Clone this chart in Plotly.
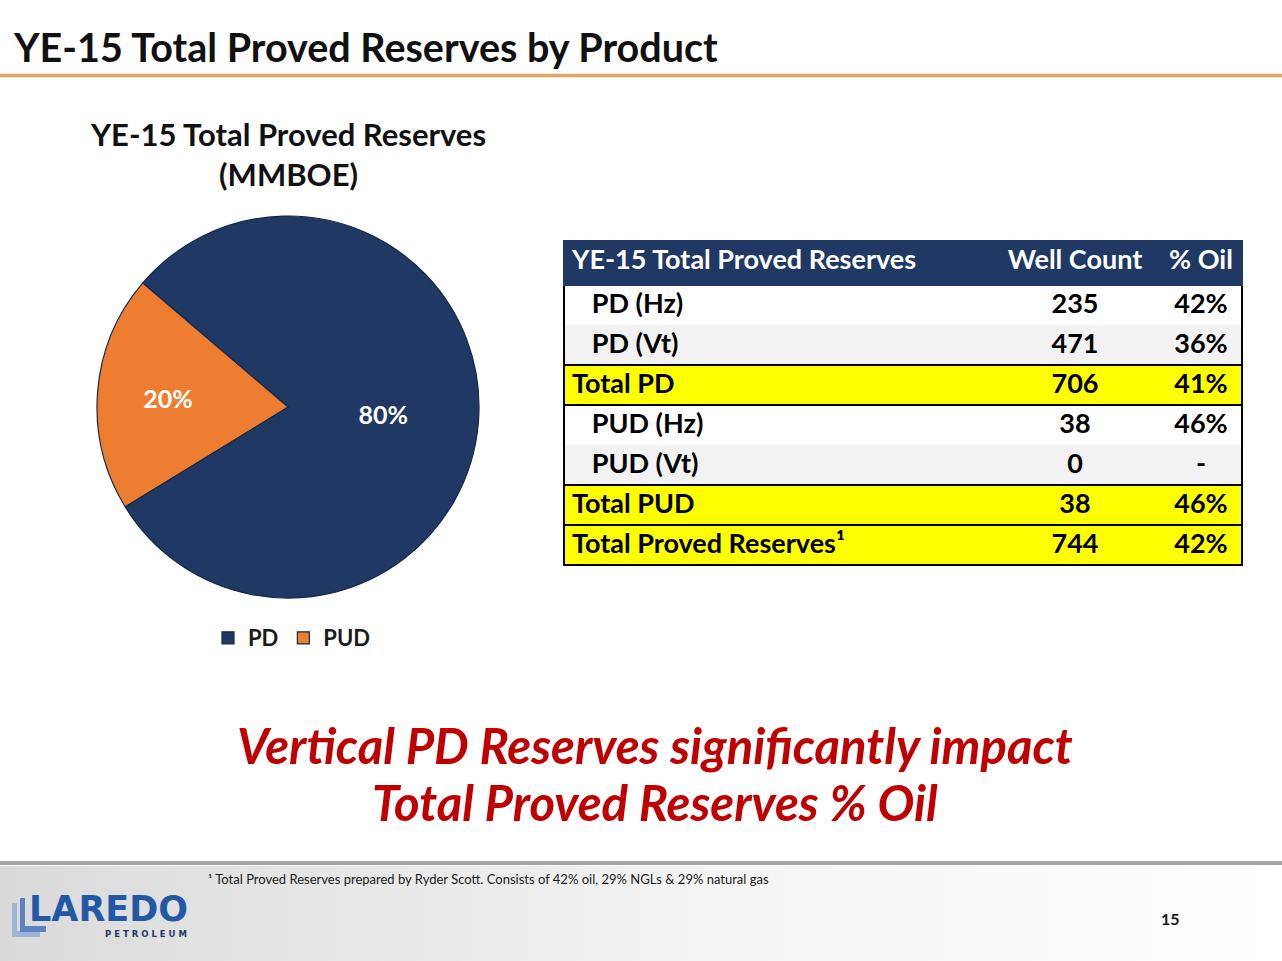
import plotly.graph_objects as go

# ---------------- data ----------------
pie_labels = ["PD", "PUD"]
pie_values = [80, 20]
pie_colors = ["#1F3864", "#ED7D31"]

table_header = ["YE-15 Total Proved Reserves", "Well\u00a0Count", "%\u00a0Oil"]
row_labels = ["PD (Hz)", "PD (Vt)", "Total PD", "PUD (Hz)", "PUD (Vt)", "Total PUD",
              "Total Proved Reserves\u00b9"]
row_indent = [True, True, False, True, True, False, False]
well_counts = ["235", "471", "706", "38", "0", "38", "744"]
pct_oil = ["42%", "36%", "41%", "46%", "-", "46%", "42%"]
row_fill = ["#FFFFFF", "#F2F2F2", "#FFFF00", "#FFFFFF", "#F2F2F2", "#FFFF00", "#FFFF00"]
rule_after = [1, 2, 4, 5, 6]  # rows followed by a black rule

callout_lines = ["Vertical PD Reserves significantly impact", "Total Proved Reserves % Oil"]

W, H = 1282, 961
FONT = "Lato"

fig = go.Figure()

# ---- footer gradient background (decoration) ----
fig.add_trace(go.Scatter(
    x=[0, W, W, 0, 0], y=[866, 866, H, H, 866], mode="none", fill="toself",
    fillgradient=dict(type="horizontal",
                      colorscale=[[0, "#DADADA"], [0.55, "#F4F4F4"], [1, "#FFFFFF"]]),
    hoverinfo="skip", showlegend=False))

# ---- pie ----
cx, cy, r = 288, 407, 191
fig.add_trace(go.Pie(
    labels=pie_labels, values=pie_values, sort=False, direction="clockwise",
    rotation=-49.5,
    marker=dict(colors=pie_colors, line=dict(color="#16284A", width=1.2)),
    texttemplate="%{percent:.0%}", textposition="inside",
    insidetextorientation="horizontal",
    textfont=dict(family=FONT, size=25, color="white", weight="bold"),
    domain=dict(x=[(cx - r) / W, (cx + r) / W], y=[(H - cy - r) / H, (H - cy + r) / H]),
    hoverinfo="skip", showlegend=True))

# ---- table ----
tx0, tx1, ty0 = 564, 1242, 241
col_w = [426, 170, 82]
head_h, row_h = 44, 40
n = len(row_labels)
ty1 = ty0 + head_h + n * row_h
labels_fmt = [("\u00a0\u00a0\u00a0" + l) if ind else l for l, ind in zip(row_labels, row_indent)]
fig.add_trace(go.Table(
    domain=dict(x=[tx0 / W, tx1 / W], y=[(H - ty1 - 2) / H, (H - ty0) / H]),
    columnwidth=col_w,
    header=dict(values=table_header, fill_color="#1F3864", height=head_h,
                align=["left", "center", "center"],
                line=dict(color="#1F3864", width=1),
                font=dict(family=FONT, size=27, color="white", weight="bold")),
    cells=dict(values=[labels_fmt, well_counts, pct_oil],
               fill_color=[row_fill, row_fill, row_fill], height=row_h,
               align=["left", "center", "center"],
               line=dict(color=[row_fill, row_fill, row_fill], width=1),
               font=dict(family=FONT, size=27, color="#000000", weight="bold"))))

shapes = []
# table rules
shapes.append(dict(type="line", xref="x", yref="y", x0=tx0, x1=tx1,
                   y0=ty0 + head_h, y1=ty0 + head_h, line=dict(color="#000000", width=2)))
for i in rule_after:
    yy = ty0 + head_h + (i + 1) * row_h
    shapes.append(dict(type="line", xref="x", yref="y", x0=tx0, x1=tx1, y0=yy, y1=yy,
                       line=dict(color="#000000", width=2)))
shapes.append(dict(type="rect", xref="x", yref="y", x0=tx0, x1=tx1, y0=ty0 + head_h, y1=ty1,
                   line=dict(color="#000000", width=2)))
shapes.append(dict(type="rect", xref="x", yref="y", x0=tx0, x1=tx1, y0=ty0, y1=ty0 + head_h,
                   line=dict(color="#1F3864", width=2)))
# title underline
shapes.append(dict(type="line", xref="x", yref="y", x0=0, x1=W, y0=75.5, y1=75.5,
                   line=dict(color="#E2A862", width=3.5)))
# footer bar
shapes.append(dict(type="line", xref="x", yref="y", x0=0, x1=W, y0=863, y1=863,
                   line=dict(color="#A6A6A6", width=4)))
# logo brackets
shapes.append(dict(type="path", xref="x", yref="y",
                   path="M12,903 L17,903 L17,931 L40,931 L40,937 L12,937 Z",
                   fillcolor="#9DB3D9", line=dict(width=0)))
shapes.append(dict(type="path", xref="x", yref="y",
                   path="M20,898 L25,898 L25,926 L46,926 L46,932 L20,932 Z",
                   fillcolor="#5C82C0", line=dict(width=0)))

annotations = [
    dict(text="<b>YE-15 Total Proved Reserves by Product</b>", x=11, y=46, xref="x", yref="y",
         xanchor="left", yanchor="middle", showarrow=False,
         font=dict(family=FONT, size=39.5, color="#111111")),
    dict(text="<b>YE-15 Total Proved Reserves<br>(MMBOE)</b>", x=288, y=154, xref="x", yref="y",
         xanchor="center", yanchor="middle", showarrow=False, align="center",
         font=dict(family=FONT, size=31, color="#111111")),
    dict(text="\u00b9 Total Proved Reserves prepared by Ryder Scott. Consists of 42% oil, 29% NGLs & 29% natural gas",
         x=206, y=879, xref="x", yref="y", xanchor="left", yanchor="middle", showarrow=False,
         font=dict(family=FONT, size=13, color="#1A1A1A")),
    dict(text="<b>15</b>", x=1170, y=918, xref="x", yref="y", xanchor="center", yanchor="middle",
         showarrow=False, font=dict(family=FONT, size=16, color="#1A1A1A")),
    dict(text="<b>LAREDO</b>", x=27, y=909, xref="x", yref="y", xanchor="left", yanchor="middle",
         showarrow=False, font=dict(family="DejaVu Sans", size=35, color="#2159A6")),
    dict(text="<b>P E T R O L E U M</b>", x=189, y=934, xref="x", yref="y", xanchor="right",
         yanchor="middle", showarrow=False,
         font=dict(family="DejaVu Sans", size=8.5, color="#1F3864")),
]
for line, yy in zip(callout_lines, [745, 802]):
    annotations.append(dict(text="<b><i>" + line + "</i></b>", x=655, y=yy, xref="x", yref="y",
                            xanchor="center", yanchor="middle", showarrow=False,
                            font=dict(family=FONT, size=49, color="#C00000")))

fig.update_layout(
    width=W, height=H, margin=dict(l=0, r=0, t=0, b=0),
    paper_bgcolor="white", plot_bgcolor="rgba(0,0,0,0)",
    xaxis=dict(range=[0, W], domain=[0, 1], visible=False, fixedrange=True),
    yaxis=dict(range=[H, 0], domain=[0, 1], visible=False, fixedrange=True),
    shapes=shapes, annotations=annotations,
    legend=dict(orientation="h", x=292 / W, y=1 - 638 / H, xanchor="center", yanchor="middle",
                font=dict(family=FONT, size=22, color="#1A1A1A", weight="bold"),
                itemwidth=30, bgcolor="rgba(0,0,0,0)", traceorder="normal"),
)

fig.write_html("out.html", config={"displayModeBar": False},
               post_script="document.body.style.margin='0';")
